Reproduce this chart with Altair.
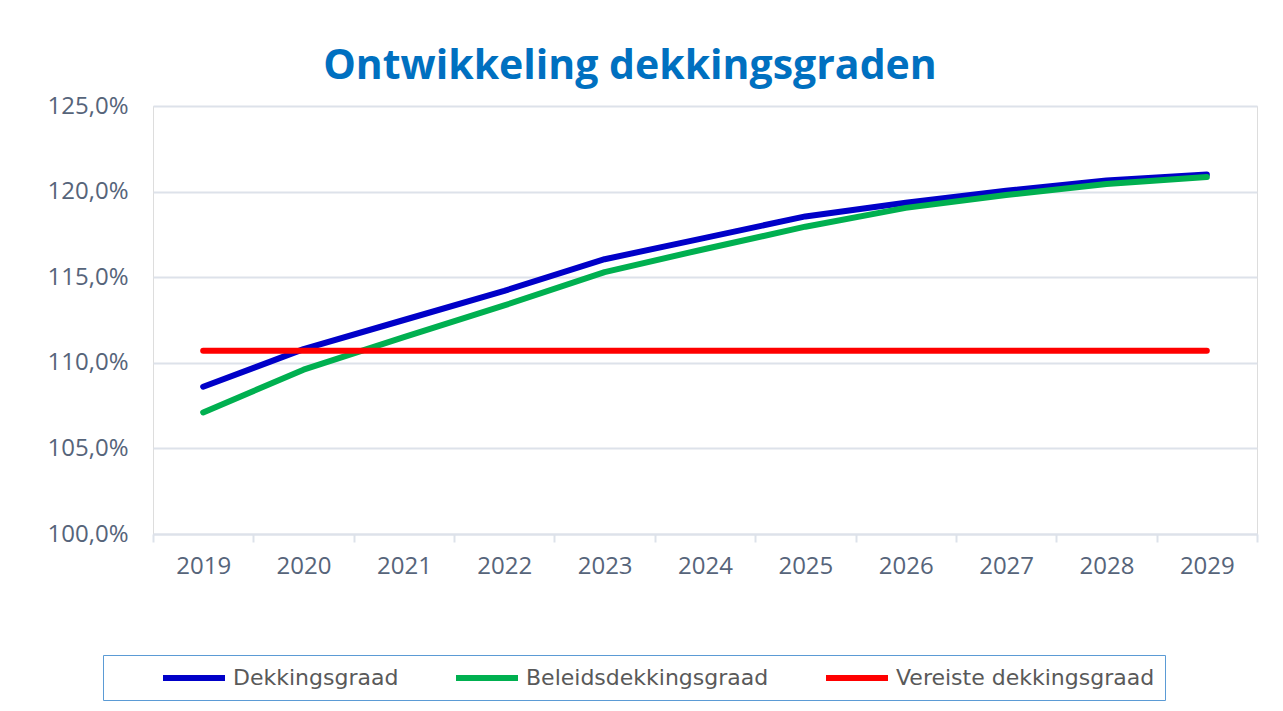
import altair as alt
import pandas as pd

years = ["2019", "2020", "2021", "2022", "2023", "2024", "2025", "2026", "2027", "2028", "2029"]
dekkingsgraad = [108.6, 110.8, 112.5, 114.2, 116.05, 117.3, 118.55, 119.35, 120.05, 120.65, 121.0]
beleidsdekkingsgraad = [107.1, 109.6, 111.5, 113.35, 115.3, 116.65, 117.95, 119.05, 119.8, 120.45, 120.85]
vereiste = [110.7] * 11

series_names = ["Dekkingsgraad", "Beleidsdekkingsgraad", "Vereiste dekkingsgraad"]
series_colors = ["#0000C8", "#00B050", "#FF0000"]
y_ticks = [100, 105, 110, 115, 120, 125]

rows = []
for name, vals in zip(series_names, [dekkingsgraad, beleidsdekkingsgraad, vereiste]):
    for yr, v in zip(years, vals):
        rows.append({"jaar": yr, "waarde": v, "reeks": name})
df = pd.DataFrame(rows)

label_color = "#56647A"
grid_color = "#DDE2EA"

chart = alt.Chart(df).mark_line(strokeWidth=6, strokeCap="round", strokeJoin="round").encode(
    x=alt.X("jaar:O", sort=years, bandPosition=0.5,
            scale=alt.Scale(type="band", paddingInner=0, paddingOuter=0),
            axis=alt.Axis(title=None, labelAngle=0, grid=False, tickBand="extent",
                          tickSize=8, tickColor=grid_color, tickWidth=2,
                          domainColor=grid_color, domainWidth=2,
                          labelFont="Open Sans", labelFontSize=24, labelColor=label_color,
                          labelPadding=12)),
    y=alt.Y("waarde:Q", scale=alt.Scale(domain=[100, 125], nice=False, zero=False),
            axis=alt.Axis(title=None, values=y_ticks, domain=False, ticks=False,
                          gridColor=grid_color, gridWidth=2,
                          labelExpr="replace(format(datum.value, '.1f'), '.', ',') + '%'",
                          labelFont="Open Sans", labelFontSize=24, labelColor=label_color,
                          labelPadding=25)),
    color=alt.Color("reeks:N", sort=series_names,
                    scale=alt.Scale(domain=series_names, range=series_colors),
                    legend=alt.Legend(title=None, orient="none", direction="horizontal",
                                      legendX=-50, legendY=549,
                                      symbolType="M-3.1,0H3.1", symbolSize=400, symbolStrokeWidth=6,
                                      symbolOffset=68, labelOffset=26, columnPadding=7,
                                      labelFont="DejaVu Sans", labelFontSize=22,
                                      labelColor="#595959", labelLimit=400,
                                      strokeColor="#5B9BD5", padding=10)),
    order=alt.Order("reeks_order:Q"),
).transform_calculate(
    reeks_order="indexof(['Dekkingsgraad','Beleidsdekkingsgraad','Vereiste dekkingsgraad'], datum.reeks)"
).properties(
    width=1104, height=428,
    padding={"left": 153, "top": 106, "right": 26, "bottom": 177},
    autosize=alt.AutoSizeParams(type="none"),
    title=alt.TitleParams(text="Ontwikkeling dekkingsgraden", font="Open Sans", fontSize=41,
                          fontWeight="bold", color="#0070C0", anchor="middle", dx=-75, offset=6),
).configure_view(stroke=None).configure(background="white")

chart.save("out.html", embed_options={"renderer": "svg", "actions": False})
